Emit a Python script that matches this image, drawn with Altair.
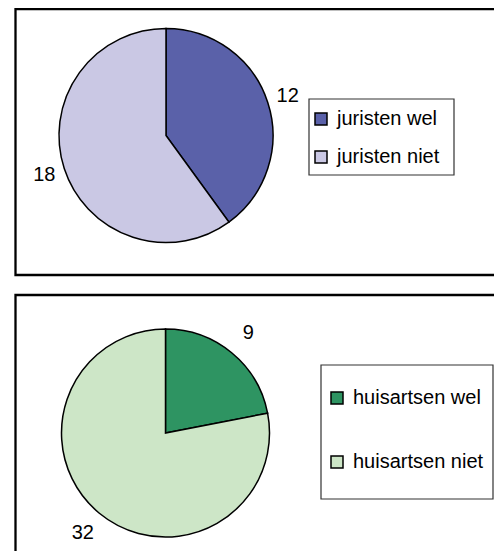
import altair as alt
import pandas as pd

# ---- data ----
jur_cats = ["juristen wel", "juristen niet"]
jur_vals = [12, 18]
jur_colors = ["#5a61a9", "#cac8e4"]

hui_cats = ["huisartsen wel", "huisartsen niet"]
hui_vals = [9, 32]
hui_colors = ["#2e9462", "#cde6c7"]

# page -> chart coordinate offsets (8px page margin)
OX, OY = 8, 8


def px(x):
    return x - OX


def py(y):
    return y - OY


FONT = "Liberation Sans"
FS = 20

frame = pd.DataFrame({"k": [0]})


def box(x1, y1, x2, y2, color, sw):
    return alt.Chart(frame).mark_rect(
        fill="white", fillOpacity=0, stroke=color, strokeWidth=sw
    ).encode(
        x=alt.value(px(x1)), x2=alt.value(px(x2)),
        y=alt.value(py(y1)), y2=alt.value(py(y2)),
    )


def pie(cats, vals, colors, cx, cy, r, lab_r, leg_x, leg_y, row_pad):
    df = pd.DataFrame({"cat": cats, "val": vals, "idx": list(range(len(cats)))})
    base = alt.Chart(df).encode(
        theta=alt.Theta("val:Q", stack=True),
        order=alt.Order("idx:Q", sort="ascending"),
        x=alt.value(px(cx)),
        y=alt.value(py(cy)),
    )
    arc = base.mark_arc(outerRadius=r, stroke="black", strokeWidth=1.5).encode(
        color=alt.Color(
            "cat:N",
            scale=alt.Scale(domain=cats, range=colors),
            legend=alt.Legend(
                orient="none",
                legendX=px(leg_x),
                legendY=py(leg_y),
                title=None,
                symbolType="square",
                symbolSize=144,
                symbolStrokeColor="black",
                symbolStrokeWidth=1.5,
                symbolOpacity=1,
                labelFont=FONT,
                labelFontSize=FS,
                labelColor="black",
                labelOffset=6,
                rowPadding=row_pad,
                padding=0,
            ),
        )
    )
    text = base.mark_text(radius=lab_r, font=FONT, fontSize=FS, color="black").encode(
        text="val:Q"
    )
    return alt.layer(arc, text)


boxes = [
    box(15.5, 9, 800, 275, "black", 2.3),
    box(15.5, 295, 800, 800, "black", 2.3),
    box(309, 99, 454, 175, "#333333", 1.2),
    box(321, 365, 493, 499, "#333333", 1.2),
]

pie1 = pie(jur_cats, jur_vals, jur_colors, 166, 135.5, 107, 128, 311, 109, 18)
pie2 = pie(hui_cats, hui_vals, hui_colors, 165.5, 433, 104, 130, 327, 388, 44)

chart = (
    alt.layer(*boxes, pie1, pie2)
    .resolve_scale(theta="independent", color="independent")
    .properties(
        width=486,
        height=543,
        autosize=alt.AutoSizeParams(type="none"),
        padding=0,
    )
    .configure_view(strokeWidth=0)
)

chart.save("out.html", embed_options={"renderer": "svg", "actions": False})
